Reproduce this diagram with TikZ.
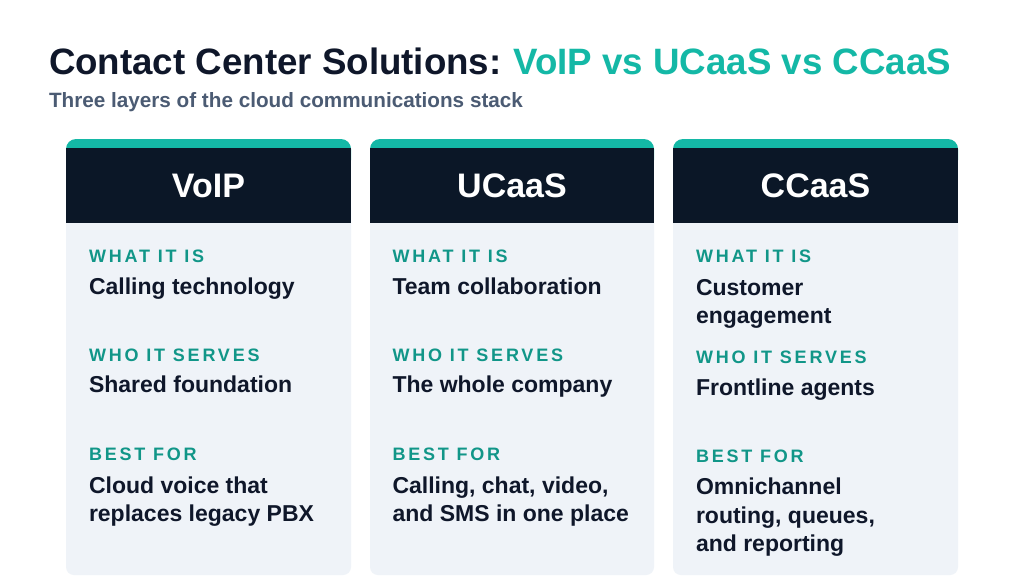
\documentclass[tikz,border=0pt]{standalone}
\usepackage{fontspec}
\setmainfont{Liberation Sans}
\newfontfamily\trackfont[LetterSpace=15.5]{Liberation Sans}
\definecolor{ink}{HTML}{0F172A}
\definecolor{tealhi}{HTML}{14B8A6}
\definecolor{teallab}{HTML}{119688}
\definecolor{subgray}{HTML}{4B5B73}
\definecolor{headbg}{HTML}{0B1727}
\definecolor{cardbg}{HTML}{EFF3F8}
\begin{document}
\begin{tikzpicture}[x=1pt,y=-1pt,
  every node/.style={inner sep=0pt,outer sep=0pt},
  title/.style={anchor=base west,text=ink,font=\bfseries\fontsize{36.7}{40}\selectfont},
  subtitle/.style={anchor=base west,text=subgray,font=\bfseries\fontsize{20.7}{24}\selectfont},
  headtext/.style={anchor=base,text=white,font=\bfseries\fontsize{34}{38}\selectfont},
  lab/.style={anchor=base west,text=teallab,font=\trackfont\bfseries\fontsize{18}{22}\selectfont},
  val/.style={anchor=base west,text=ink,font=\bfseries\fontsize{23}{28.5}\selectfont,align=left},
  cardbody/.style={fill=cardbg,rounded corners=8pt},
  cardtop/.style={fill=tealhi,rounded corners=10pt},
  cardhead/.style={fill=headbg}
]
\useasboundingbox[fill=white] (0,0) rectangle (1024,576);

% title
\node[title] (t) at (49,74) {Contact Center Solutions:\hspace{-2pt} \textcolor{tealhi}{VoIP vs UCaaS vs CCaaS}};
\node[subtitle] (st) at (49,107.3) {Three layers of the cloud communications stack};

% cards
\foreach \xa/\xb in {66/351, 370/654, 673/958}{
  \fill[cardbody] (\xa,200) rectangle (\xb,575);
  \fill[cardtop] (\xa,139) rectangle (\xb,170);
  \fill[cardhead] (\xa,148) rectangle (\xb,223);
}

% card 1
\node[headtext] (h1) at (208.5,197) {VoIP};
\node[lab] (a1) at (89,262.7) {WHAT IT IS};
\node[val] (b1) at (89,294) {Calling technology};
\node[lab] (c1) at (89,361) {WHO IT SERVES};
\node[val] (d1) at (89,392.7) {Shared foundation};
\node[lab] (e1) at (89,460.7) {BEST FOR};
\node[val] (f1) at (89,493) {Cloud voice that};
\node[val] (g1) at (89,521.5) {replaces legacy PBX};

% card 2
\node[headtext] (h2) at (512,197) {UCaaS};
\node[lab] (a2) at (392.5,262.7) {WHAT IT IS};
\node[val] (b2) at (392.5,294) {Team collaboration};
\node[lab] (c2) at (392.5,361) {WHO IT SERVES};
\node[val] (d2) at (392.5,392.7) {The whole company};
\node[lab] (e2) at (392.5,460.7) {BEST FOR};
\node[val] (f2) at (392.5,493.3) {Calling, chat, video,};
\node[val] (g2) at (392.5,521.5) {and SMS in one place};

% card 3
\node[headtext] (h3) at (815.5,197) {CCaaS};
\node[lab] (a3) at (696,262.7) {WHAT IT IS};
\node[val] (b3) at (696,295) {Customer};
\node[val] (b3b) at (696,323) {engagement};
\node[lab] (c3) at (696,363.3) {WHO IT SERVES};
\node[val] (d3) at (696,395) {Frontline agents};
\node[lab] (e3) at (696,462.3) {BEST FOR};
\node[val] (f3) at (696,494.3) {Omnichannel};
\node[val] (g3) at (696,523) {routing, queues,};
\node[val] (k3) at (696,551.7) {and reporting};
\end{tikzpicture}
\end{document}
